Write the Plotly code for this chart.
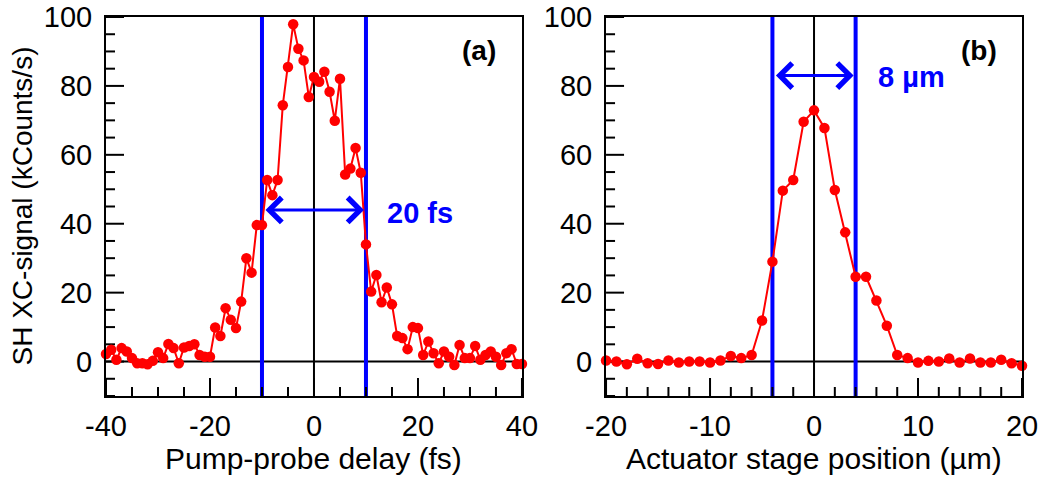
import plotly.graph_objects as go

# ---------------- data ----------------
delay_fs = list(range(-40, 41))
signal_a = [2.2, 3.4, 0.5, 3.9, 2.9, 1.0, -0.5, -0.5, -0.8, 0.2,
            2.7, 1.0, 5.1, 3.9, -0.5, 4.1, 4.5, 5.0, 1.9, 1.4,
            1.4, 9.9, 7.4, 15.5, 12.1, 9.7, 17.4, 30.0, 25.8, 39.6,
            39.6, 52.7, 48.3, 52.7, 74.4, 85.5, 97.9, 90.8, 87.4, 76.8,
            82.6, 81.2, 84.1, 78.3, 69.9, 82.1, 54.3, 56.0, 62.0, 54.8,
            34.0, 20.3, 25.1, 17.2, 21.5, 16.6, 7.4, 6.8, 3.6, 10.0,
            9.7, 1.9, 5.8, 2.4, -0.5, 2.9, 1.4, -1.0, 4.8, 1.0,
            1.0, 4.5, 0.5, 1.9, 2.9, 1.4, -1.0, 2.4, 3.6, -0.7, -0.7]

stage_um = list(range(-20, 21))
signal_b = [0.3, 0.0, -0.8, 0.8, -0.5, -0.7, 0.3, -0.3, 0.0, 0.0,
            -0.3, 0.3, 1.6, 1.0, 1.9, 11.9, 29.0, 49.6, 52.7, 69.6,
            72.9, 67.8, 49.8, 37.5, 24.6, 24.6, 17.7, 10.4, 1.9, 1.0,
            -0.3, 0.2, 0.0, 0.9, -0.3, 0.9, -0.3, -0.3, 0.5, -0.5, -1.2]

fwhm_a = [-10, 10]
fwhm_b = [-4, 4]
arrow_y_a = 44
arrow_y_b = 83

xa_ticks = [-40, -20, 0, 20, 40]
xa_ticktext = ["-40", "-20", "0", "20", "40"]
xb_ticks = [-20, -10, 0, 10, 20]
xb_ticktext = ["-20", "-10", "0", "10", "20"]
y_ticks = [0, 20, 40, 60, 80, 100]
y_ticktext = ["0", "20", "40", "60", "80", "100"]
xa_minor_step = 5
xb_minor_step = 2
y_minor_step = 5

XA_RANGE = [-40, 40]
XB_RANGE = [-20, 20]
Y_RANGE = [-10, 100]

FONT = "Arial, Liberation Sans, sans-serif"
RED = "#ff0000"
BLUE = "#0000ff"

# plot geometry (pixels) used to convert tick lengths into axis units
W, H = 1044, 481
ML, MR, MT, MB = 106, 22, 17, 85
PLOT_W = W - ML - MR
PLOT_H = H - MT - MB
DOM_A = [0, 0.4541]
DOM_B = [0.5459, 1]
MAJOR_PX, MINOR_PX = 18, 9


def frange(start, stop, step):
    vals, v = [], start
    while v <= stop + 1e-9:
        vals.append(v)
        v += step
    return vals


def tick_trace(xref, yref, xrange, yrange, xdom, x_major, x_step, y_major, y_step):
    px_per_x = PLOT_W * (xdom[1] - xdom[0]) / (xrange[1] - xrange[0])
    px_per_y = PLOT_H / (yrange[1] - yrange[0])
    xs, ys = [], []
    # bottom axis ticks (pointing up into the plot)
    for v in frange(xrange[0], xrange[1], x_step):
        length = (MAJOR_PX if any(abs(v - m) < 1e-9 for m in x_major) else MINOR_PX) / px_per_y
        xs += [v, v, None]
        ys += [yrange[0], yrange[0] + length, None]
    # left axis ticks (pointing right into the plot)
    for v in frange(yrange[0], yrange[1], y_step):
        length = (MAJOR_PX if any(abs(v - m) < 1e-9 for m in y_major) else MINOR_PX) / px_per_x
        xs += [xrange[0], xrange[0] + length, None]
        ys += [v, v, None]
    return go.Scatter(x=xs, y=ys, mode="lines", line=dict(color="black", width=2),
                      hoverinfo="skip", showlegend=False, xaxis=xref, yaxis=yref,
                      cliponaxis=False)


fig = go.Figure()
fig.add_trace(tick_trace("x", "y", XA_RANGE, Y_RANGE, DOM_A, xa_ticks, xa_minor_step,
                         y_ticks, y_minor_step))
fig.add_trace(tick_trace("x2", "y2", XB_RANGE, Y_RANGE, DOM_B, xb_ticks, xb_minor_step,
                         y_ticks, y_minor_step))
fig.add_trace(go.Scatter(x=delay_fs, y=signal_a, mode="lines+markers",
                         line=dict(color=RED, width=2),
                         marker=dict(color=RED, size=10.5),
                         cliponaxis=False, xaxis="x", yaxis="y", showlegend=False))
fig.add_trace(go.Scatter(x=stage_um, y=signal_b, mode="lines+markers",
                         line=dict(color=RED, width=2),
                         marker=dict(color=RED, size=10.5),
                         cliponaxis=False, xaxis="x2", yaxis="y2", showlegend=False))

common_axis = dict(showgrid=False, zeroline=False, showline=True, linecolor="black",
                   linewidth=2, mirror=True, ticks="", tickmode="array",
                   tickfont=dict(family=FONT, size=29, color="black"))

fig.update_layout(
    template="none",
    showlegend=False,
    width=W, height=H,
    margin=dict(l=ML, r=MR, t=MT, b=MB),
    paper_bgcolor="white", plot_bgcolor="white",
    font=dict(family=FONT, color="black"),
    xaxis=dict(domain=DOM_A, range=XA_RANGE, tickvals=xa_ticks, ticktext=xa_ticktext,
               anchor="y", ticklabelstandoff=3, **common_axis),
    yaxis=dict(domain=[0, 1], range=Y_RANGE, tickvals=y_ticks, ticktext=y_ticktext,
               anchor="x", ticklabeloverflow="allow", ticklabelstandoff=6, **common_axis),
    xaxis2=dict(domain=DOM_B, range=XB_RANGE, tickvals=xb_ticks, ticktext=xb_ticktext,
                anchor="y2", ticklabelstandoff=3, **common_axis),
    yaxis2=dict(domain=[0, 1], range=Y_RANGE, tickvals=y_ticks, ticktext=y_ticktext,
                anchor="x2", ticklabeloverflow="allow", ticklabelstandoff=6, **common_axis),
)

shapes = []
for xr, yr, xrange, fw in [("x", "y", XA_RANGE, fwhm_a), ("x2", "y2", XB_RANGE, fwhm_b)]:
    shapes.append(dict(type="line", xref=xr, yref=yr, x0=xrange[0], x1=xrange[1], y0=0, y1=0,
                       line=dict(color="black", width=2), layer="below"))
    shapes.append(dict(type="line", xref=xr, yref=yr, x0=0, x1=0, y0=Y_RANGE[0], y1=Y_RANGE[1],
                       line=dict(color="black", width=2), layer="below"))
    for xv in fw:
        shapes.append(dict(type="line", xref=xr, yref=yr, x0=xv, x1=xv,
                           y0=Y_RANGE[0], y1=Y_RANGE[1],
                           line=dict(color=BLUE, width=4), layer="below"))
fig.update_layout(shapes=shapes)

ann = []
# double arrows
for xr, yr, fw, ya in [("x", "y", fwhm_a, arrow_y_a), ("x2", "y2", fwhm_b, arrow_y_b)]:
    ann.append(dict(xref=xr, yref=yr, axref=xr, ayref=yr, x=fw[1], y=ya, ax=fw[0], ay=ya,
                    text="", showarrow=True, arrowhead=4, startarrowhead=4,
                    arrowside="end+start", arrowwidth=3, arrowsize=1.6, startarrowsize=1.6,
                    arrowcolor=BLUE, standoff=2, startstandoff=2))
ann.append(dict(xref="x", yref="y", x=20.4, y=43, text="<b>20 fs</b>", showarrow=False,
                font=dict(family=FONT, size=29, color=BLUE)))
ann.append(dict(xref="x2", yref="y2", x=9.4, y=82.6, text="<b>8 µm</b>", showarrow=False,
                font=dict(family=FONT, size=29, color=BLUE)))
ann.append(dict(xref="x", yref="y", x=31.7, y=90.3, text="<b>(a)</b>", showarrow=False,
                font=dict(family=FONT, size=28, color="black")))
ann.append(dict(xref="x2", yref="y2", x=15.9, y=90.3, text="<b>(b)</b>", showarrow=False,
                font=dict(family=FONT, size=28, color="black")))
# axis titles
ann.append(dict(xref="paper", yref="paper", x=0.227, y=-0.165, xanchor="center", yanchor="middle",
                text="Pump-probe delay (fs)", showarrow=False,
                font=dict(family=FONT, size=30, color="black")))
ann.append(dict(xref="paper", yref="paper", x=0.773, y=-0.165, xanchor="center", yanchor="middle",
                text="Actuator stage position (µm)", showarrow=False,
                font=dict(family=FONT, size=30, color="black")))
ann.append(dict(xref="paper", yref="paper", x=-0.0917, y=0.5, xanchor="center", yanchor="middle",
                text="SH XC-signal (kCounts/s)", textangle=-90, showarrow=False,
                font=dict(family=FONT, size=28, color="black")))
fig.update_layout(annotations=ann)

fig.write_html("out.html")
